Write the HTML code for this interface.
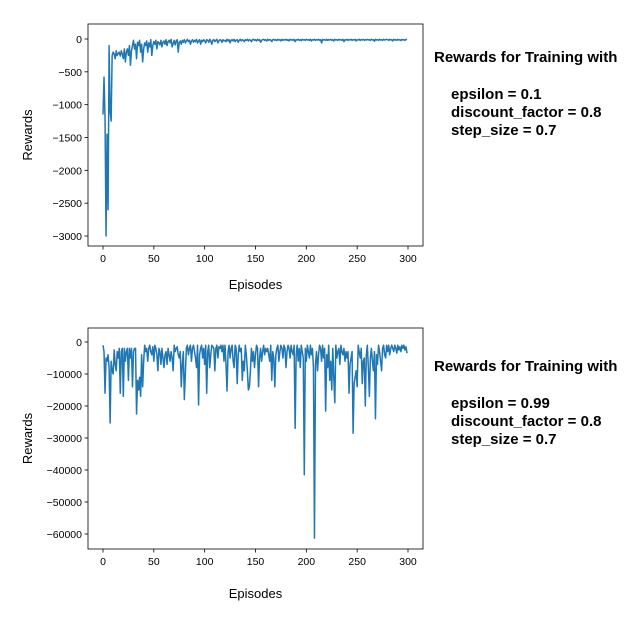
<!DOCTYPE html>
<html><head><meta charset="utf-8"><style>
body{margin:0;background:#fff;width:644px;height:638px;overflow:hidden}
svg{font-family:"Liberation Sans",sans-serif}
.t{font-size:15px;font-weight:bold;fill:#000}
</style></head><body>
<svg id="s" width="644" height="638">
<text class="t" x="434" y="62">Rewards for Training with</text>
<text class="t" x="451" y="99">epsilon = 0.1</text>
<text class="t" x="451" y="117">discount_factor = 0.8</text>
<text class="t" x="451" y="135">step_size = 0.7</text>
<text class="t" x="434" y="371">Rewards for Training with</text>
<text class="t" x="451" y="408">epsilon = 0.99</text>
<text class="t" x="451" y="426">discount_factor = 0.8</text>
<text class="t" x="451" y="444">step_size = 0.7</text>
</svg>
<script>
const xTicks=[0,50,100,150,200,250,300];
const topYTicks=[0,-500,-1000,-1500,-2000,-2500,-3000];
const botYTicks=[0,-10000,-20000,-30000,-40000,-50000,-60000];
const topRewards=[-1150,-580,-1200,-3000,-1450,-2600,-100,-1100,-1250,-250,-200,-230,-300,-180,-250,-220,-200,-260,-180,-230,
-300,-150,-350,-200,-150,-250,-100,-400,-180,-100,-20,-150,-80,-300,-50,-100,-20,-200,-80,-350,
-150,-60,-100,-30,-200,-60,-120,-10,-250,-100,-40,-80,-20,-150,-40,-60,-90,-20,-120,-50,
-30,-80,-10,-100,-40,-20,-60,-5,-120,-70,-20,-90,-30,-10,-200,-50,-30,-80,-20,-50,
-10,-60,-30,-5,-40,-20,-80,-30,-10,-50,-20,-40,-5,-60,-30,-10,-80,-20,-40,-10,
-30,-60,-10,-20,-50,-5,-30,-80,-20,-10,-40,-20,-5,-60,-30,-10,-20,-50,-10,-30,
-20,-40,-5,-30,-10,-60,-20,-10,-30,-5,-40,-20,-10,-50,-20,-5,-30,-10,-20,-40,
-10,-20,-5,-30,-10,-20,-40,-10,-5,-20,-10,-30,-5,-20,-10,-50,-20,-10,-5,-20,
-10,-30,-5,-20,-10,-15,-40,-10,-5,-20,-10,-25,-5,-15,-10,-30,-5,-20,-10,-15,
-5,-20,-10,-30,-5,-15,-10,-20,-5,-40,-10,-15,-5,-20,-10,-25,-5,-15,-10,-20,
-5,-15,-10,-20,-5,-30,-10,-15,-5,-20,-10,-15,-5,-20,-10,-60,-5,-15,-10,-20,
-5,-20,-10,-15,-5,-20,-10,-30,-5,-15,-10,-20,-5,-15,-10,-20,-5,-40,-10,-15,
-5,-20,-10,-15,-5,-20,-10,-15,-5,-30,-10,-15,-5,-20,-10,-15,-5,-20,-10,-15,
-5,-15,-10,-20,-5,-15,-10,-35,-5,-15,-10,-20,-5,-15,-10,-20,-5,-15,-10,-5,
-10,-20,-5,-15,-10,-30,-5,-15,-10,-20,-5,-15,-10,-25,-5,-15,-10,-20,-5,-10];
const botRewards=[-1000,-3000,-16000,-5000,-6000,-4000,-8000,-25300,-6000,-9000,
-10000,-2500,-7000,-9000,-3000,-5000,-2000,-16000,-3000,-2000,
-17000,-2000,-6000,-3000,-2000,-12000,-2000,-5000,-2000,-14000,
-3000,-2000,-2000,-22500,-12000,-15000,-11000,-17000,-4000,-14000,
-6000,-1000,-3000,-2000,-6000,-2000,-1000,-3000,-4000,-1500,
-6000,-1000,-2000,-4000,-9000,-2000,-3000,-7000,-2000,-5000,
-8000,-4000,-3000,-7000,-2000,-4000,-6000,-3000,-5000,-9000,
-1000,-3000,-2000,-1500,-4000,-5000,-3000,-14000,-7000,-3000,
-18000,-10000,-2000,-1000,-4000,-2000,-1000,-6000,-2000,-1000,
-3000,-5000,-8000,-1000,-19700,-4000,-2000,-1000,-5000,-2000,
-7000,-1000,-16000,-3000,-1000,-8000,-4000,-1000,-1500,-2000,
-9000,-2000,-1000,-5000,-1500,-2000,-1000,-3000,-1000,-6000,
-1000,-7000,-15300,-3000,-1000,-5000,-2000,-1000,-6000,-8000,
-1000,-2000,-13000,-4000,-1000,-3000,-2000,-12000,-6000,-9000,
-1000,-4000,-9000,-15000,-14000,-9000,-2000,-6000,-3000,-8000,
-4000,-1000,-2000,-14000,-5000,-2000,-6000,-3000,-1000,-4000,
-2000,-3000,-2000,-4000,-6000,-1000,-12000,-3000,-5000,-14000,
-4000,-2000,-1000,-6000,-3000,-1000,-2000,-5000,-1000,-2000,
-8000,-3000,-1000,-2000,-5000,-1000,-3000,-4000,-1000,-27000,
-4000,-1000,-6000,-2000,-8000,-1000,-3000,-5000,-41500,-2000,
-6000,-1000,-3000,-5000,-1000,-4000,-2000,-8000,-61300,-7000,
-3000,-9000,-4000,-1000,-2000,-6000,-1000,-5000,-2000,-21600,
-4000,-8000,-1000,-12000,-6000,-15000,-2000,-11000,-19000,-1000,
-5000,-3000,-2000,-7000,-1000,-3000,-4000,-2000,-6000,-3000,
-5000,-3000,-16000,-7000,-5000,-3000,-28500,-13000,-11000,-9000,
-14000,-1000,-3000,-5000,-2000,-13000,-6000,-5000,-20000,-4000,
-1000,-8000,-17000,-5000,-2000,-6000,-9000,-3000,-24000,-4000,
-7000,-1000,-3000,-6000,-9000,-2000,-1000,-4000,-5000,-1000,
-3000,-1000,-4000,-2000,-1000,-2000,-3000,-1000,-2000,-3500,
-1000,-2500,-1500,-3000,-1000,-2000,-1000,-2500,-1500,-3500];
const NS="http://www.w3.org/2000/svg";
const svg=document.getElementById('s');
function el(t,a,p){const e=document.createElementNS(NS,t);for(const k in a)e.setAttribute(k,a[k]);(p||svg).appendChild(e);return e;}
function chart(prefix,data,yTicks,box,yMin,yMax,yLabelX){
  const x=v=>box.x0+(v-0)*(box.x300-box.x0)/300;
  const y=v=>box.y0+(v-yMax)*(box.yMin-box.y0)/(yMin-yMax);
  const g=el('g',{});
  
  
  let d='';
  data.forEach((v,i)=>{d+=(i?'L':'M')+x(i).toFixed(2)+','+y(v).toFixed(2);});
  const p=el('path',{d:d,fill:'none',stroke:'#1f77b4','stroke-width':1.5,'stroke-linejoin':'round'},g);
  
  
  const r=el('rect',{x:box.L,y:box.T,width:box.R-box.L,height:box.B-box.T,fill:'none',stroke:'#000','stroke-width':0.8},g);
  
  
  xTicks.forEach(t=>{
    el('line',{x1:x(t),x2:x(t),y1:box.B,y2:box.B+3.5,stroke:'#000','stroke-width':0.8},g);
    const tx=el('text',{x:x(t),y:box.B+16,'text-anchor':'middle','font-size':'10.5px'},g);
    tx.textContent=t;
    
    
  });
  yTicks.forEach(t=>{
    el('line',{x1:box.L-3.5,x2:box.L,y1:y(t),y2:y(t),stroke:'#000','stroke-width':0.8},g);
    const tx=el('text',{x:box.L-6,y:y(t)+4,'text-anchor':'end','font-size':'10.5px'},g);
    tx.textContent=t<0?'\u2212'+(-t):t;
    
    
  });
  const xl=el('text',{x:(box.L+box.R)/2,y:box.xlY,'text-anchor':'middle','font-size':'13px'},g);
  xl.textContent='Episodes';
  
  
  const cy=(box.T+box.B)/2;
  const yl=el('text',{x:yLabelX,y:cy,'text-anchor':'middle','font-size':'13px',transform:'rotate(-90 '+yLabelX+' '+cy+')'},g);
  yl.textContent='Rewards';
  
  
}
chart('top',topRewards,topYTicks,{L:88,R:423,T:24,B:246,x0:103,x300:408,y0:39,yMin:236,xlY:289},-3000,0,32);
chart('bottom',botRewards,botYTicks,{L:88,R:423,T:328,B:549,x0:103,x300:408,y0:342,yMin:534,xlY:598},-60000,0,32);
</script>
</body></html>
